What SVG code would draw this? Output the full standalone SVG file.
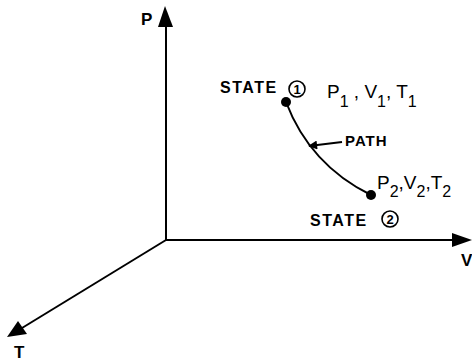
<svg xmlns="http://www.w3.org/2000/svg" width="472" height="361" viewBox="0 0 472 361">
<style>
.ax{stroke:#000;stroke-width:2;fill:none}
.t{font-family:"Liberation Sans",Arial,sans-serif;fill:#000}
.lab{font-size:17px;font-weight:bold}
.st{font-size:16px;font-weight:bold;letter-spacing:1.5px}
.var{font-size:19px}
.sub{font-size:16px}
</style>
<defs>
<marker id="ah" viewBox="0 0 10 10" refX="9" refY="5" markerWidth="11" markerHeight="9" markerUnits="userSpaceOnUse" orient="auto">
<path d="M0,0 L10,5 L0,10 z" fill="#000"/>
</marker>
</defs>
<rect width="472" height="361" fill="#fff"/>
<g id="axes">
<line class="ax" x1="166" y1="240" x2="166" y2="24"/>
<polygon points="165,6 158,27 173,27" fill="#000"/>
<line class="ax" x1="166" y1="240" x2="456" y2="240"/>
<polygon points="472,240 452,233 452,247" fill="#000"/>
<line class="ax" x1="166" y1="240" x2="22" y2="328"/>
<polygon points="7,337 18,321 27,334" fill="#000"/>
</g>
<g id="axis-labels">
<text class="t lab" x="141" y="25">P</text>
<text class="t lab" x="461" y="266">V</text>
<text class="t lab" x="14" y="358">T</text>
</g>
<g id="state1">
<circle cx="286" cy="102" r="5" fill="#000"/>
<text class="t st" x="220" y="93">STATE</text>
<circle cx="297" cy="89" r="8" fill="none" stroke="#000" stroke-width="1.6"/>
<text class="t" x="297" y="94" font-size="13" font-weight="bold" text-anchor="middle">1</text>
<text class="t var" x="327" y="98">P<tspan class="sub" dy="9">1</tspan><tspan dy="-9"> , V</tspan><tspan class="sub" dy="9">1</tspan><tspan dy="-9">, T</tspan><tspan class="sub" dy="9">1</tspan></text>
</g>
<g id="state2">
<circle cx="371" cy="195" r="5" fill="#000"/>
<text class="t var" x="377" y="189">P<tspan class="sub" dy="8">2</tspan><tspan dy="-8">,V</tspan><tspan class="sub" dy="8">2</tspan><tspan dy="-8">,T</tspan><tspan class="sub" dy="8">2</tspan></text>
<text class="t st" x="310" y="226">STATE</text>
<circle cx="390" cy="219" r="8" fill="none" stroke="#000" stroke-width="1.6"/>
<text class="t" x="390" y="224" font-size="13" font-weight="bold" text-anchor="middle">2</text>
</g>
<g id="connectors">
<path d="M286,102 Q310,165 371,195" class="ax" stroke-width="3.5"/>
<line class="ax" x1="342" y1="142" x2="309" y2="146" marker-end="url(#ah)" stroke-width="1.8"/>
</g>
<g id="path-label">
<text class="t" x="345" y="146" font-size="15" font-weight="bold" letter-spacing="1">PATH</text>
</g>
</svg>
